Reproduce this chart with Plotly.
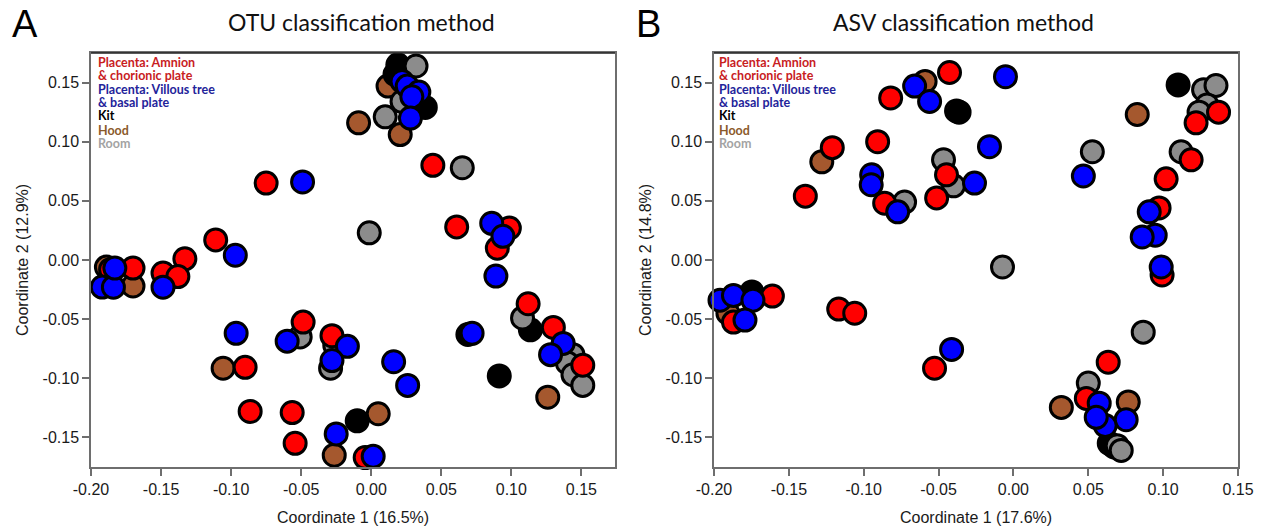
import plotly.graph_objects as go

# ---------------- Data (PCoA coordinates) ----------------
# Panel A: OTU classification method
amnion_A_x = [-0.075, 0.044, -0.111, -0.133, 0.061, 0.0986, 0.090, 0.112, 0.130, 0.151, -0.0043, -0.028,
              -0.0486, -0.090, -0.0864, -0.0564, -0.0543, -0.1486, -0.138, -0.170, -0.186]
amnion_A_y = [0.065, 0.080, 0.017, 0.001, 0.028, 0.027, 0.010, -0.037, -0.057, -0.089, -0.167, -0.064,
              -0.0525, -0.0907, -0.128, -0.129, -0.155, -0.011, -0.014, -0.0068, -0.008]
villous_A_x = [-0.049, -0.097, 0.022, 0.0257, 0.034, 0.029, 0.028, 0.086, 0.094, 0.089, 0.137, 0.128, 0.072,
               0.016, 0.026, -0.025, 0.0014, -0.017, -0.028, -0.060, -0.0964, -0.192, -0.184, -0.183, -0.1486]
villous_A_y = [0.066, 0.004, 0.151, 0.147, 0.142, 0.138, 0.120, 0.031, 0.020, -0.0136, -0.0705, -0.080, -0.062,
               -0.086, -0.106, -0.147, -0.166, -0.073, -0.085, -0.0686, -0.062, -0.0229, -0.023, -0.0068, -0.023]
kit_A_x = [0.019, 0.017, 0.0386, 0.033, 0.069, 0.1136, 0.0914, -0.010]
kit_A_y = [0.165, 0.157, 0.129, 0.133, -0.063, -0.059, -0.098, -0.136]
hood_A_x = [0.012, -0.009, 0.0207, 0.126, 0.005, -0.0264, -0.1057, -0.170, -0.189]
hood_A_y = [0.147, 0.116, 0.106, -0.116, -0.130, -0.165, -0.0915, -0.022, -0.006]
room_A_x = [0.032, 0.022, 0.010, 0.065, -0.0014, 0.108, 0.144, 0.140, 0.144, 0.151, -0.0507, -0.026, -0.029]
room_A_y = [0.164, 0.134, 0.121, 0.078, 0.023, -0.049, -0.080, -0.087, -0.097, -0.106, -0.065, -0.072, -0.0915]

# Panel B: ASV classification method
amnion_B_x = [-0.139, -0.121, -0.0907, -0.082, -0.0427, -0.0447, -0.0513, -0.086, 0.137, 0.122, 0.1187, 0.102,
              0.0973, 0.0993, 0.0633, -0.0527, 0.0487, -0.161, -0.187, -0.1167, -0.106]
amnion_B_y = [0.054, 0.095, 0.100, 0.137, 0.1585, 0.072, 0.0525, 0.048, 0.125, 0.116, 0.0847, 0.0686,
              0.044, -0.0127, -0.0864, -0.0915, -0.117, -0.0305, -0.0525, -0.0415, -0.045]
villous_B_x = [-0.066, -0.056, -0.0053, -0.016, -0.026, -0.0947, -0.095, -0.0773, 0.0467, 0.0907, 0.0947, 0.086,
               0.0987, -0.0413, 0.0573, 0.0753, 0.0613, 0.0553, -0.196, -0.187, -0.174, -0.1793]
villous_B_y = [0.147, 0.134, 0.155, 0.0958, 0.065, 0.072, 0.0636, 0.0407, 0.071, 0.0407, 0.021, 0.0195,
               -0.0059, -0.0756, -0.121, -0.135, -0.140, -0.133, -0.034, -0.030, -0.034, -0.0508]
kit_B_x = [0.110, -0.0363, 0.0673, -0.1747, 0.064]
kit_B_y = [0.148, 0.125, -0.158, -0.027, -0.155]
hood_B_x = [-0.128, -0.059, -0.038, 0.0827, 0.032, 0.0767, -0.1907]
hood_B_y = [0.083, 0.151, 0.126, 0.123, -0.1246, -0.120, -0.045]
room_B_x = [-0.0727, -0.0467, -0.040, 0.0527, 0.127, 0.1353, 0.1293, 0.124, 0.112, -0.0073, 0.0867, 0.050, 0.0693, 0.072]
room_B_y = [0.049, 0.0847, 0.0627, 0.0915, 0.144, 0.1475, 0.131, 0.125, 0.0915, -0.0059, -0.061, -0.104, -0.157, -0.161]

x_ticks = [-0.20, -0.15, -0.10, -0.05, 0.00, 0.05, 0.10, 0.15]
x_tick_labels = ["-0.20", "-0.15", "-0.10", "-0.05", "0.00", "0.05", "0.10", "0.15"]
y_ticks = [-0.15, -0.10, -0.05, 0.00, 0.05, 0.10, 0.15]
y_tick_labels = ["-0.15", "-0.10", "-0.05", "0.00", "0.05", "0.10", "0.15"]

panel_titles = ["OTU classification method", "ASV classification method"]
panel_letters = ["A", "B"]
x_titles = ["Coordinate 1 (16.5%)", "Coordinate 1 (17.6%)"]
y_titles = ["Coordinate 2 (12.9%)", "Coordinate 2 (14.8%)"]
legend_lines = ["Placenta: Amnion", "& chorionic plate", "Placenta: Villous tree", "& basal plate",
                "Kit", "Hood", "Room"]

# ---------------- Styling ----------------
W, H = 1265, 529
fill = {"hood": "#a5582e", "kit": "#000000", "room": "#8c8c8c", "amnion": "#ff0000", "villous": "#0000ff"}
legend_colors = ["#c8201e", "#c8201e", "#23239a", "#23239a", "#000000", "#8b5a2b", "#a3a3a3"]

fig = go.Figure()

panels = [
    dict(xa="x", ya="y", data=[("hood", hood_A_x, hood_A_y), ("kit", kit_A_x, kit_A_y),
                                ("room", room_A_x, room_A_y), ("amnion", amnion_A_x, amnion_A_y),
                                ("villous", villous_A_x, villous_A_y)]),
    dict(xa="x2", ya="y2", data=[("hood", hood_B_x, hood_B_y), ("kit", kit_B_x, kit_B_y),
                                 ("room", room_B_x, room_B_y), ("amnion", amnion_B_x, amnion_B_y),
                                 ("villous", villous_B_x, villous_B_y)]),
]
for p in panels:
    for name, xs, ys in p["data"]:
        fig.add_trace(go.Scatter(
            x=xs, y=ys, mode="markers", xaxis=p["xa"], yaxis=p["ya"], showlegend=False,
            marker=dict(size=22, color=fill[name], line=dict(color="#000000", width=3)),
            cliponaxis=False, hoverinfo="skip"))

# plot area pixel boxes
boxes = [(91, 615), (714, 1238)]
top_px, bot_px = 53, 467
ydom = [1 - bot_px / H, 1 - top_px / H]

tickfont = dict(family="Liberation Sans, Arial", size=16, color="#1a1a1a")
axis_common = dict(showgrid=False, zeroline=False, showline=True, linecolor="#6e6e6e", linewidth=1.5,
                   mirror=True, ticks="outside", ticklen=7, tickcolor="#6e6e6e", tickwidth=1.5,
                   tickfont=tickfont, automargin=False)

xranges = [[-0.2, 0.174], [-0.2, 0.15]]
shapes = []
for i, (l, r) in enumerate(boxes):
    suffix = "" if i == 0 else "2"
    fig.update_layout(**{
        "xaxis" + suffix: dict(domain=[l / W, r / W], range=xranges[i], tickvals=x_ticks,
                               ticktext=x_tick_labels, anchor="y" + suffix, **axis_common),
        "yaxis" + suffix: dict(domain=ydom, range=[-0.175, 0.175], tickvals=y_ticks,
                               ticktext=y_tick_labels, anchor="x" + suffix, **axis_common),
    })
    # darker top frame line, as in the reference
    shapes.append(dict(type="line", xref="x" + suffix + " domain", yref="y" + suffix + " domain",
                       x0=0, x1=1, y0=1, y1=1, line=dict(color="#222222", width=1.5)))

annotations = []
title_cx = [361, 963]
letter_x = [10, 634]
ytitle_x = [22, 645]
legend_x = [96, 717]
legend_y = [62, 75.5, 89, 102.5, 116, 130, 144]
for i, (l, r) in enumerate(boxes):
    annotations.append(dict(text=panel_titles[i], x=title_cx[i] / W, y=1 - 22 / H, xref="paper", yref="paper",
                            showarrow=False, xanchor="center", yanchor="middle",
                            font=dict(family="Lato, Open Sans", size=23, color="#111")))
    annotations.append(dict(text=panel_letters[i], x=letter_x[i] / W, y=1 - 24 / H, xref="paper", yref="paper",
                            showarrow=False, xanchor="left", yanchor="middle",
                            font=dict(family="Liberation Sans, Arial", size=38, color="#000")))
    annotations.append(dict(text=x_titles[i], x=(l + r) / 2 / W, y=1 - 517 / H, xref="paper", yref="paper",
                            showarrow=False, xanchor="center", yanchor="middle",
                            font=dict(family="Liberation Sans, Arial", size=16, color="#1a1a1a")))
    annotations.append(dict(text=y_titles[i], x=ytitle_x[i] / W, y=1 - 260 / H, xref="paper", yref="paper",
                            showarrow=False, xanchor="center", yanchor="middle", textangle=-90,
                            font=dict(family="Liberation Sans, Arial", size=16, color="#1a1a1a")))
    for j, line in enumerate(legend_lines):
        annotations.append(dict(text="<b>" + line + "</b>", x=legend_x[i] / W, y=1 - legend_y[j] / H,
                                xref="paper", yref="paper", showarrow=False, xanchor="left",
                                yanchor="middle",
                                font=dict(family="Lato, Open Sans", size=12.5, color=legend_colors[j])))

fig.update_layout(width=W, height=H, margin=dict(l=0, r=0, t=0, b=0), plot_bgcolor="white",
                  paper_bgcolor="white", annotations=annotations, shapes=shapes, showlegend=False)

fig.write_html("out.html", config={"displayModeBar": False},
               post_script="document.body.style.margin='0px';document.body.style.overflow='hidden';")
